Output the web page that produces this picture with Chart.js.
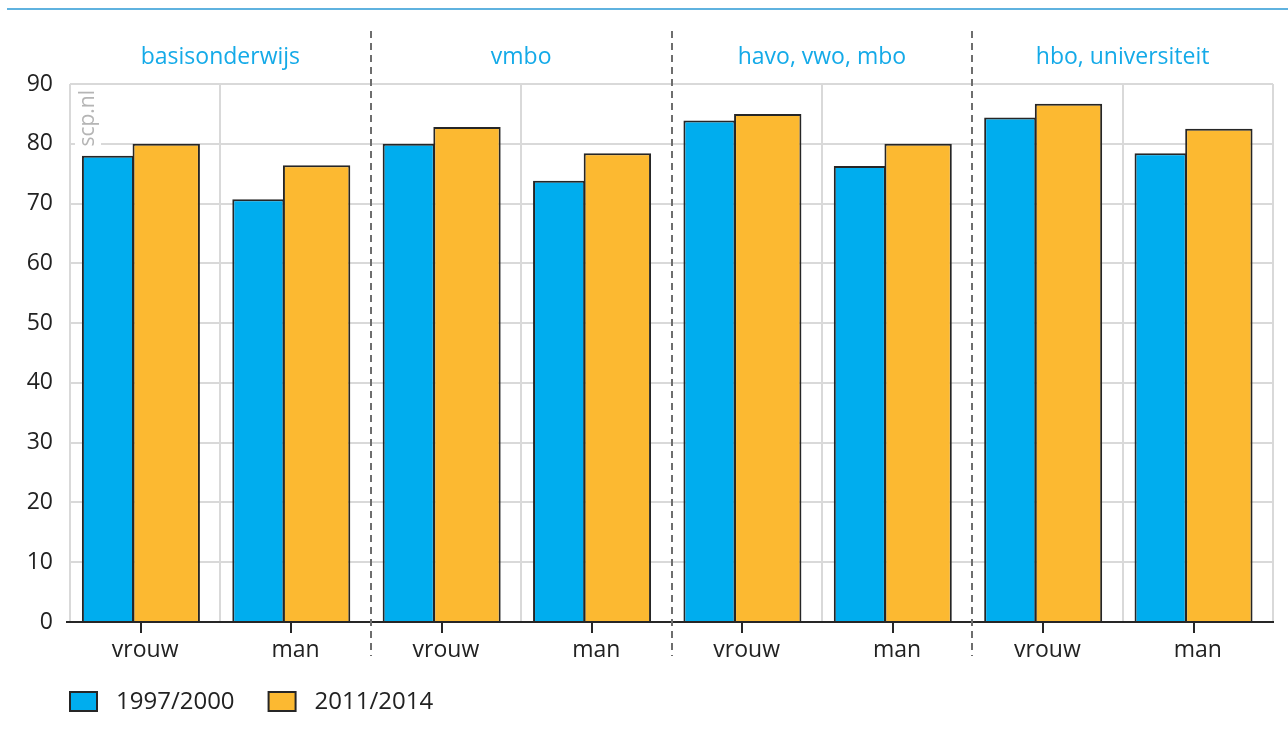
<!DOCTYPE html>
<html>
<head>
<meta charset="utf-8">
<script src="https://cdn.jsdelivr.net/npm/chart.js@4/dist/chart.umd.min.js"></script>
<style>
  html, body { margin: 0; padding: 0; background: #fff; }
  #wrap { width: 1288px; height: 742px; }
</style>
</head>
<body>
<div id="wrap"><canvas id="Chart" width="1288" height="742"></canvas></div>
<script>
// data
let categories = ['vrouw', 'man', 'vrouw', 'man', 'vrouw', 'man', 'vrouw', 'man']
let groups = ['basisonderwijs', 'vmbo', 'havo, vwo, mbo', 'hbo, universiteit']
let series1 = [78.0, 70.7, 80.0, 73.8, 83.9, 76.3, 84.4, 78.4]   // 1997/2000
let series2 = [80.0, 76.4, 82.8, 78.4, 85.0, 80.0, 86.7, 82.5]   // 2011/2014
let yTicks = [0, 10, 20, 30, 40, 50, 60, 70, 80, 90]
let seriesNames = ['1997/2000', '2011/2014']

const blue = '#00adee'
const orange = '#fcb931'
const edge = '#262626'
const gridGray = '#d9d9d9'
const titleBlue = '#14aae8'
const font = 'Open Sans'

const extras = {
  id: 'extras',
  beforeDraw(chart) {
    const c = chart.ctx
    c.save()
    c.strokeStyle = '#5fb2df'
    c.lineWidth = 2
    c.beginPath()
    c.moveTo(7, 9)
    c.lineTo(chart.width, 9)
    c.stroke()
    c.restore()
  },
  afterDraw(chart) {
    const c = chart.ctx
    const x = chart.scales.x
    const area = chart.chartArea
    c.save()

    // group titles
    c.fillStyle = titleBlue
    c.font = '23px "' + font + '"'
    c.textAlign = 'center'
    c.textBaseline = 'middle'
    groups.forEach((g, i) => {
      const cx = (x.getPixelForValue(2 * i) + x.getPixelForValue(2 * i + 1)) / 2
      c.fillText(g, cx, 57)
    })

    // dashed separators between groups
    c.strokeStyle = '#6e6e6e'
    c.lineWidth = 2
    c.setLineDash([7, 5])
    for (let i = 1; i < groups.length; i++) {
      const sx = Math.round((x.getPixelForValue(2 * i - 1) + x.getPixelForValue(2 * i)) / 2)
      c.beginPath()
      c.moveTo(sx, 31)
      c.lineTo(sx, 656)
      c.stroke()
    }
    c.setLineDash([])

    // tick marks under each bar pair
    const m0 = chart.getDatasetMeta(0).data
    const m1 = chart.getDatasetMeta(1).data
    c.strokeStyle = edge
    c.lineWidth = 2
    m0.forEach((b, i) => {
      const l = b.x - b.width / 2
      const r = m1[i].x + m1[i].width / 2
      const tx = Math.round((l + r) / 2)
      c.beginPath()
      c.moveTo(tx, area.bottom)
      c.lineTo(tx, area.bottom + 11)
      c.stroke()
    })

    // watermark
    c.translate(area.left + 18, area.top + 6)
    c.rotate(-Math.PI / 2)
    c.font = '21px "' + font + '"'
    const w = c.measureText('scp.nl').width
    c.fillStyle = '#fff'
    c.fillRect(-w - 6, -13, w + 10, 26)
    c.fillStyle = '#b5b5b5'
    c.textAlign = 'right'
    c.textBaseline = 'middle'
    c.fillText('scp.nl', 0, 0)
    c.restore()

    // legend
    c.save()
    c.font = '24px "' + font + '"'
    c.textBaseline = 'middle'
    let lx = area.left
    chart.data.datasets.forEach(ds => {
      c.fillStyle = ds.backgroundColor
      c.fillRect(lx, 692, 27, 19)
      c.strokeStyle = edge
      c.lineWidth = 2
      c.strokeRect(lx, 692, 27, 19)
      c.fillStyle = '#222'
      c.fillText(ds.label, lx + 46, 702)
      lx += 46 + c.measureText(ds.label).width + 34
    })
    c.restore()
  }
}

new Chart('Chart', {
  type: 'bar',
  data: {
    labels: categories,
    datasets: [
      { label: seriesNames[0], data: series1, backgroundColor: blue, borderColor: edge,
        borderWidth: 2, borderSkipped: 'bottom', categoryPercentage: 0.99, barPercentage: 0.70 },
      { label: seriesNames[1], data: series2, backgroundColor: orange, borderColor: edge,
        borderWidth: 2, borderSkipped: 'bottom', categoryPercentage: 0.56, barPercentage: 1.60 }
    ]
  },
  options: {
    responsive: false,
    animation: false,
    layout: { padding: { left: 0, right: 15, top: 84, bottom: 82 } },
    plugins: { legend: { display: false }, tooltip: { enabled: false } },
    scales: {
      x: {
        offset: true,
        grid: {
          offset: true,
          drawTicks: false,
          lineWidth: 2,
          color: ctx => (ctx.index % 2 === 0 && ctx.index > 0 && ctx.index < categories.length) ? 'rgba(0,0,0,0)' : gridGray
        },
        border: { display: true, color: edge, width: 2 },
        ticks: { color: '#222', font: { family: font, size: 23 }, padding: 15 },
        afterFit(s) { s.height = 38 }
      },
      y: {
        min: 0,
        max: 90,
        afterBuildTicks(s) { s.ticks = yTicks.map(v => ({ value: v })) },
        grid: {
          lineWidth: 2,
          color: ctx => ctx.tick && ctx.tick.value === 0 ? edge : gridGray,
          tickLength: 4,
          tickColor: ctx => ctx.tick && ctx.tick.value === 0 ? edge : 'rgba(0,0,0,0)'
        },
        border: { display: false },
        ticks: { color: '#222', font: { family: font, size: 23 }, padding: 13 },
        afterFit(s) { s.width = 70 }
      }
    }
  },
  plugins: [extras]
})
</script>
</body>
</html>
